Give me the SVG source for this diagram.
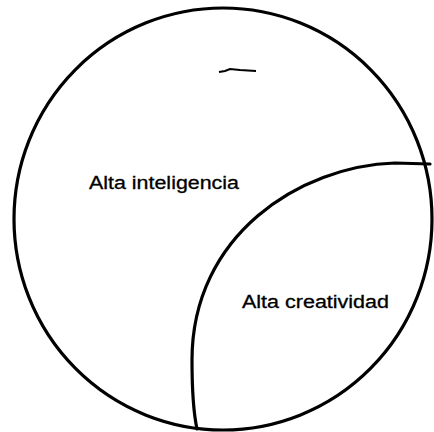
<svg xmlns="http://www.w3.org/2000/svg" width="434" height="432" viewBox="0 0 434 432">
<style>
.ln{fill:none;stroke:#000;stroke-width:3.2;stroke-linecap:round}
.lb{font-family:"Liberation Sans",Arial,sans-serif;font-size:18px;fill:#000;stroke:#000;stroke-width:0.3}
</style>
<rect width="434" height="432" fill="#fff"/>
<g id="circle-inteligencia">
<ellipse class="ln" cx="223" cy="219" rx="209" ry="211"/>
<text class="lb" x="89" y="189" textLength="150" lengthAdjust="spacingAndGlyphs">Alta inteligencia</text>
</g>
<g id="region-creatividad">
<path class="ln" d="M430,164 L395,163 C300,166 192,235 192,360 C192,395 194,415 197,429"/>
<text class="lb" x="242" y="308" textLength="147" lengthAdjust="spacingAndGlyphs">Alta creatividad</text>
</g>
<g id="mark">
<path d="M219,72 L225,71 L230,69 L240,70 L256,71" fill="none" stroke="#000" stroke-width="2.2"/>
</g>
</svg>
